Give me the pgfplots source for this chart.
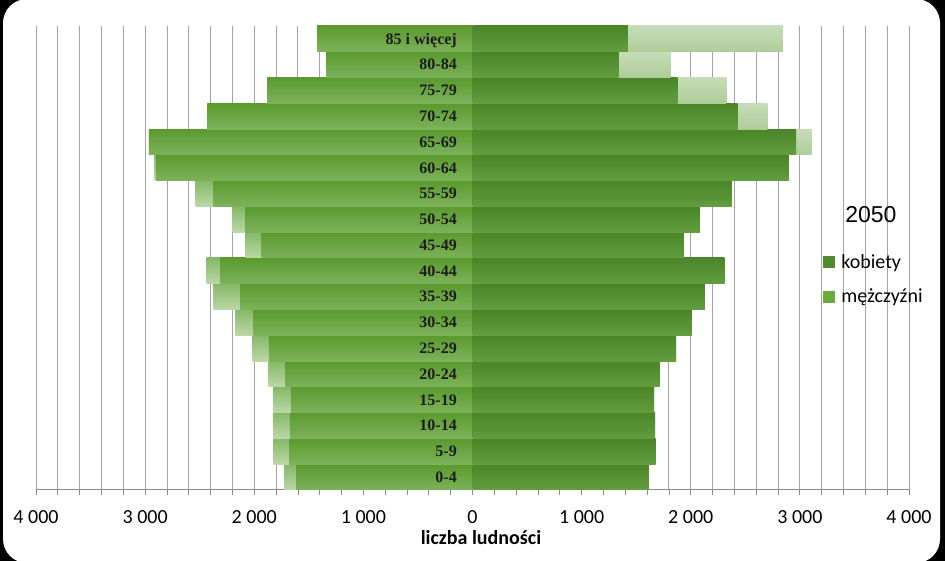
\documentclass[border=0pt]{standalone}
\usepackage{fontspec}
\setmainfont{Carlito}
\newfontfamily\catfont{Liberation Serif}
\newfontfamily\arialfont{Liberation Sans}
\usepackage{pgfplots}
\usepackage{pgfplotstable}
\pgfplotsset{compat=1.18}

\definecolor{gridgray}{HTML}{A3A3A3}
\definecolor{axisgray}{HTML}{8C8C8C}
\definecolor{kobtop}{HTML}{4A8628}
\definecolor{kobbot}{HTML}{629D3F}
\definecolor{mentop}{HTML}{5A9A2E}
\definecolor{menbot}{HTML}{7DB25B}
\definecolor{menghtop}{HTML}{86B866}
\definecolor{menghbot}{HTML}{BBD8A7}
\definecolor{kobghtop}{HTML}{C6DCB7}
\definecolor{kobghbot}{HTML}{AECD99}
\definecolor{kobleg}{HTML}{4F8A2D}
\definecolor{menleg}{HTML}{6AAB3F}
\definecolor{cattext}{HTML}{1C1C1C}

% idx: 0 = 0-4 ... 17 = 85 i wiecej; left values negative
\pgfplotstableread{
idx  mfull  mfront  kfull  kfront
0    -1723  -1615   1615   1615
1    -1823  -1678   1678   1678
2    -1823  -1674   1674   1674
3    -1823  -1665   1665   1665
4    -1869  -1715   1715   1715
5    -2016  -1866   1866   1866
6    -2171  -2008   2008   2008
7    -2372  -2130   2130   2130
8    -2436  -2308   2308   2308
9    -2080  -1935   1935   1935
10   -2199  -2082   2082   2082
11   -2537  -2374   2374   2374
12   -2912  -2896   2896   2896
13   -2965  -2965   3108   2965
14   -2429  -2429   2702   2429
15   -1880  -1880   2327   1880
16   -1336  -1336   1815   1336
17   -1422  -1422   2843   1422
}\pyramid

\newcommand{\bigfont}{\fontsize{20bp}{24bp}\selectfont}

\begin{document}
\begin{tikzpicture}
\fill[black] (0,0) rectangle (945bp,561bp);
\fill[white, rounded corners=24bp] (3bp,-2bp) rectangle (940bp,562bp);

\begin{axis}[
  at={(36bp,71bp)}, anchor=south west,
  scale only axis, width=873bp, height=464bp,
  xmin=-4000, xmax=4000, ymin=-0.5, ymax=17.5,
  xbar, bar width=1, bar shift=0pt,
  axis x line*=bottom, axis y line*=left,
  y axis line style={draw=none},
  x axis line style={axisgray, line width=1bp},
  ytick=\empty,
  xtick={-4000,-3000,...,4000},
  minor x tick num=4,
  xticklabels={4 000,3 000,2 000,1 000,0,1 000,2 000,3 000,4 000},
  xticklabel style={font=\bigfont, inner sep=0pt, anchor=center, yshift=-22bp},
  tick align=outside, major tick length=5bp, minor tick length=5bp,
  x tick style={axisgray, line width=0.8bp},
  xmajorgrids, xminorgrids,
  major grid style={gridgray, line width=0.9bp},
  minor grid style={gridgray, line width=0.9bp},
  xlabel={\bfseries liczba ludności},
  xlabel style={at={(axis description cs:0.5097,-0.1034)}, anchor=center, inner sep=0pt, font=\bigfont},
  legend style={at={(axis description cs:0.9012,0.5086)}, anchor=north west,
    draw=none, fill=none, inner sep=0pt, font=\bigfont, row sep=19bp, column sep=7bp,
    nodes={inner sep=0pt}},
  legend cell align=left,
]
\addlegendimage{legend image code/.code={\fill[kobleg] (0bp,-5.5bp) rectangle (11bp,5.5bp);}}
\addlegendimage{legend image code/.code={\fill[menleg] (0bp,-5.5bp) rectangle (11bp,5.5bp);}}
% one plot per age group, so that every bar gets its own gradient
\pgfplotsinvokeforeach{0,...,17}{
  \addplot[forget plot, draw=none, top color=menghtop, bottom color=menghbot,
    restrict expr to domain={\coordindex}{#1:#1}] table[x=mfull, y=idx] {\pyramid};
  \addplot[forget plot, draw=none, top color=mentop, bottom color=menbot,
    restrict expr to domain={\coordindex}{#1:#1}] table[x=mfront, y=idx] {\pyramid};
  \addplot[forget plot, draw=none, top color=kobghtop, bottom color=kobghbot,
    restrict expr to domain={\coordindex}{#1:#1}] table[x=kfull, y=idx] {\pyramid};
  \addplot[forget plot, draw=none, top color=kobtop, bottom color=kobbot,
    restrict expr to domain={\coordindex}{#1:#1}] table[x=kfront, y=idx] {\pyramid};
}
\legend{kobiety, mężczyźni}
\node[font=\arialfont\fontsize{23bp}{27bp}\selectfont, inner sep=0pt] at (axis description cs:0.9563,0.5927) {2050};
\end{axis}

% category labels drawn on top of the bars
\begin{axis}[
  at={(36bp,71bp)}, anchor=south west,
  scale only axis, width=873bp, height=464bp,
  xmin=-4000, xmax=4000, ymin=-0.5, ymax=17.5,
  hide x axis,
  axis y line*=left, y axis line style={draw=none},
  ytick style={draw=none}, major tick length=0pt,
  ytick={0,...,17},
  yticklabels={0-4,5-9,10-14,15-19,20-24,25-29,30-34,35-39,40-44,45-49,50-54,55-59,60-64,65-69,70-74,75-79,80-84,85 i więcej},
  yticklabel style={font=\catfont\bfseries\fontsize{16bp}{19bp}\selectfont, text=cattext,
    inner sep=0pt, anchor=base east, xshift=421bp, yshift=-5.3bp},
]
\end{axis}
\pgfresetboundingbox
\useasboundingbox (0,0) rectangle (945bp,561bp);
\end{tikzpicture}
\end{document}
